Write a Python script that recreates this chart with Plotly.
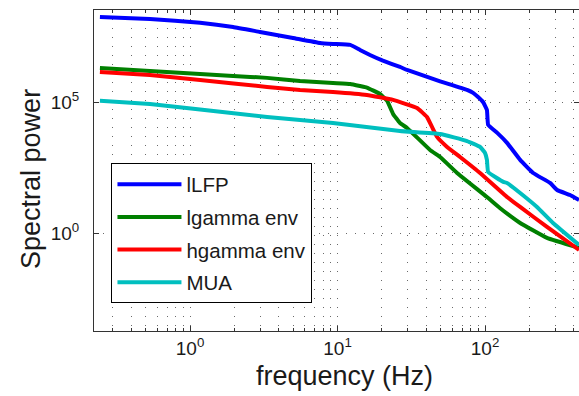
import plotly.graph_objects as go

# ---- data ----
lfp_freq = [0.245, 0.535, 1.17, 1.96, 2.98, 4.99, 7.61, 9.32, 12.2, 14.2, 16.6, 20.3, 26.5, 29.6,
            49.6, 75.5, 83.0, 89.7, 96.9, 103, 105, 121, 141, 173, 212, 276, 308, 377, 434]
lfp_log10 = [8.256, 8.179, 8.03, 7.874, 7.683, 7.454, 7.263, 7.225, 7.187, 6.996, 6.805, 6.588, 6.347, 6.233,
             5.80, 5.469, 5.355, 5.20, 5.01, 4.706, 4.134, 3.83, 3.45, 2.80, 2.30, 1.92, 1.65, 1.46, 1.27]

lgam_freq = [0.245, 0.535, 1.17, 1.96, 3.33, 5.57, 9.32, 12.2, 14.2, 15.8, 19.4, 21.7, 23.8, 26.5,
             29.6, 42.4, 49.6, 64.6, 103, 126, 173, 263, 434]
lgam_log10 = [6.309, 6.195, 6.08, 6.004, 5.93, 5.813, 5.737, 5.70, 5.62, 5.56, 5.317, 5.05, 4.553, 4.21,
              4.019, 3.179, 2.912, 2.302, 1.385, 0.966, 0.393, -0.179, -0.56]

hgam_freq = [0.245, 0.535, 1.17, 3.33, 5.57, 9.32, 15.8, 23.8, 34.6, 40.4, 43.7, 47.3, 55.3, 67.7,
             92.5, 141, 173, 263, 434]
hgam_log10 = [6.156, 6.04, 5.851, 5.584, 5.469, 5.393, 5.279, 5.088, 4.782, 4.439, 4.057, 3.676, 3.294, 2.912,
              2.302, 1.385, 1.004, 0.241, -0.637]

mua_freq = [0.245, 0.535, 1.17, 3.33, 9.32, 26.5, 49.6, 75.5, 92.5, 100, 103, 105, 133, 141,
            173, 225, 289, 434]
mua_log10 = [5.061, 4.935, 4.725, 4.439, 4.21, 3.905, 3.79, 3.52, 3.294, 3.065, 2.798, 2.34, 1.958, 1.92,
             1.538, 1.004, 0.393, -0.447]

series_names = ["lLFP", "lgamma env", "hgamma env", "MUA"]
series_colors = ["#0000ff", "#008000", "#ff0000", "#00bfbf"]

x_major = [1, 10, 100]
x_major_text = ["10<sup>0</sup>", "10<sup>1</sup>", "10<sup>2</sup>"]
x_minor = [0.3, 0.4, 0.5, 0.6, 0.7, 0.8, 0.9,
           2, 3, 4, 5, 6, 7, 8, 9,
           20, 30, 40, 50, 60, 70, 80, 90,
           200, 300, 400]
y_major = [1, 1e5]
y_major_text = ["10<sup>0</sup>", "10<sup>5</sup>"]

x_title = "frequency (Hz)"
y_title = "Spectral power"

FONT = "Liberation Sans, Arial, Helvetica, sans-serif"
AX = "#333333"
GRID = "#6a6a6a"
DOTS = "1px,8px"

fig = go.Figure()
data = [(lfp_freq, lfp_log10), (lgam_freq, lgam_log10), (hgam_freq, hgam_log10), (mua_freq, mua_log10)]
for (f, lp), name, col in zip(data, series_names, series_colors):
    fig.add_trace(go.Scatter(
        x=f, y=[10 ** v for v in lp], mode="lines", name=name,
        legendgroup=name,
        line=dict(color=col, width=4, shape="spline", smoothing=0.3),
    ))

fig.update_layout(
    width=579, height=396,
    margin=dict(l=94, r=0, t=10, b=65),
    paper_bgcolor="white", plot_bgcolor="white",
    font=dict(family=FONT, color="#1a1a1a"),
    showlegend=True,
    legend=dict(
        x=0.036, y=0.522, xanchor="left", yanchor="top",
        bordercolor="#000000", borderwidth=1, bgcolor="white",
        font=dict(size=20.5, family=FONT, color="#1a1a1a"),
        itemwidth=64, tracegroupgap=3, traceorder="grouped",
    ),
    annotations=[
        dict(text=x_title, xref="paper", yref="paper", x=0.5165, y=-0.140,
             xanchor="center", yanchor="middle", showarrow=False,
             font=dict(size=27, family=FONT, color="#1a1a1a")),
        dict(text=y_title, xref="paper", yref="paper", x=-0.13, y=0.4735,
             xanchor="center", yanchor="middle", showarrow=False, textangle=-90,
             font=dict(size=27, family=FONT, color="#1a1a1a")),
    ],
)

fig.update_xaxes(
    type="log", range=[-0.651, 2.637],
    tickmode="array", tickvals=x_major, ticktext=x_major_text,
    ticks="inside", ticklen=5, tickcolor=AX, tickwidth=1,
    showline=True, linecolor=AX, linewidth=1, mirror="ticks",
    showgrid=True, gridcolor=GRID, gridwidth=1, griddash=DOTS,
    zeroline=False, tickfont=dict(size=19, family=FONT, color="#1a1a1a"),
    minor=dict(tickmode="array", tickvals=x_minor, ticks="inside", ticklen=3, tickcolor=AX,
               showgrid=True, gridcolor=GRID, gridwidth=1, griddash=DOTS),
)
fig.update_yaxes(
    type="log", range=[-3.73, 8.52],
    tickmode="array", tickvals=y_major, ticktext=y_major_text,
    ticks="inside", ticklen=5, tickcolor=AX, tickwidth=1,
    showline=True, linecolor=AX, linewidth=1, mirror="ticks",
    showgrid=True, gridcolor=GRID, gridwidth=1, griddash=DOTS,
    zeroline=False, tickfont=dict(size=19, family=FONT, color="#1a1a1a"),
    ticklabelstandoff=10,
)

fig.write_html("out.html")
